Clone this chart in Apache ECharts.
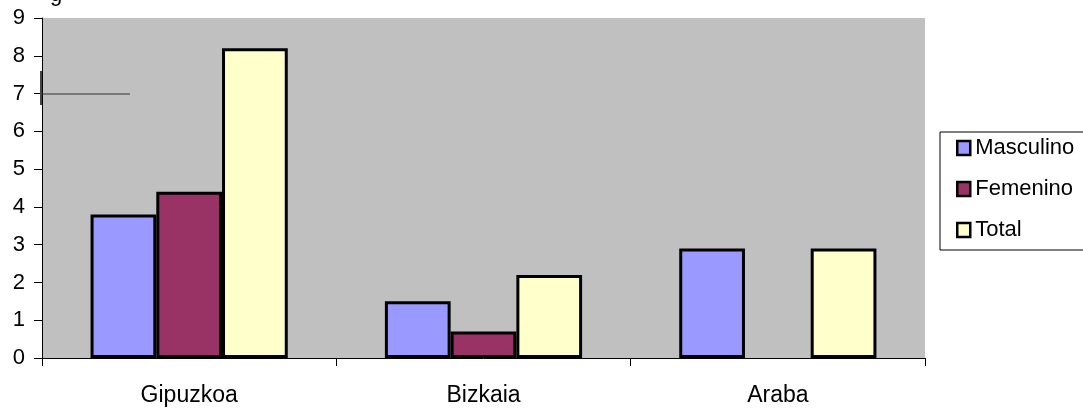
<!DOCTYPE html>
<html>
<head>
<meta charset="utf-8">
<script src="https://cdn.jsdelivr.net/npm/echarts@6/dist/echarts.min.js"></script>
<style>html,body{margin:0;padding:0;background:#fff;}#c{width:1083px;height:410px;}</style>
</head>
<body>
<div id="c"></div>
<script>
const categories = ['Gipuzkoa', 'Bizkaia', 'Araba'];
const masculino = [3.8, 1.5, 2.9];
const femenino = [4.4, 0.7, null];
const total = [8.2, 2.2, 2.9];
const yTicks = [0, 1, 2, 3, 4, 5, 6, 7, 8, 9];

const chart = echarts.init(document.getElementById('c'));
const font = 'Liberation Sans, Arial, sans-serif';
const barStyle = (c) => ({ color: c, borderColor: '#000', borderWidth: 3 });
chart.setOption({
  animation: false,
  backgroundColor: '#fff',
  textStyle: { fontFamily: font },
  grid: { left: 42, right: 158, top: 18, bottom: 52, backgroundColor: '#C0C0C0', show: true, borderWidth: 0 },
  xAxis: {
    type: 'category', data: categories,
    axisLine: { lineStyle: { color: '#000', width: 1 } },
    axisTick: { show: true, length: 8, interval: 0, lineStyle: { color: '#000' } },
    axisLabel: { color: '#000', fontSize: 23, margin: 26, fontFamily: font }
  },
  yAxis: {
    type: 'value', min: yTicks[0], max: yTicks[yTicks.length - 1], interval: 1,
    axisLine: { show: true, lineStyle: { color: '#000', width: 1 } },
    axisTick: { show: true, length: 8, lineStyle: { color: '#000' } },
    splitLine: { show: false },
    axisLabel: { color: '#000', fontSize: 22, margin: 17, fontFamily: font }
  },
  legend: {
    orient: 'vertical', left: 956, top: 137, padding: 0,
    icon: 'rect',
    itemWidth: 13, itemHeight: 14, itemGap: 19,
    itemStyle: { borderColor: '#000', borderWidth: 2.5 },
    textStyle: { fontSize: 22, lineHeight: 22, color: '#000', fontFamily: font },
    data: ['Masculino', 'Femenino', 'Total']
  },
  graphic: [
    { type: 'rect', z: -1, shape: { x: 940, y: 132, width: 200, height: 118 }, style: { fill: '#fff', stroke: '#000', lineWidth: 1 } },
    { type: 'line', z: 10, shape: { x1: 42, y1: 94, x2: 130, y2: 94 }, style: { stroke: '#333', lineWidth: 1 } },
    { type: 'line', z: 10, shape: { x1: 41, y1: 71, x2: 41, y2: 105 }, style: { stroke: '#444', lineWidth: 2 } },
    { type: 'text', z: 10, x: 50, y: -16, style: { text: 'g', fontSize: 22, fill: '#000', fontFamily: font } }
  ],
  series: [
    { name: 'Masculino', type: 'bar', data: masculino, barGap: '0%', barCategoryGap: '33%', itemStyle: barStyle('#9999FF') },
    { name: 'Femenino', type: 'bar', data: femenino, barGap: '0%', barCategoryGap: '33%', itemStyle: barStyle('#993366') },
    { name: 'Total', type: 'bar', data: total, barGap: '0%', barCategoryGap: '33%', itemStyle: barStyle('#FFFFCC') }
  ]
});
</script>
</body>
</html>
